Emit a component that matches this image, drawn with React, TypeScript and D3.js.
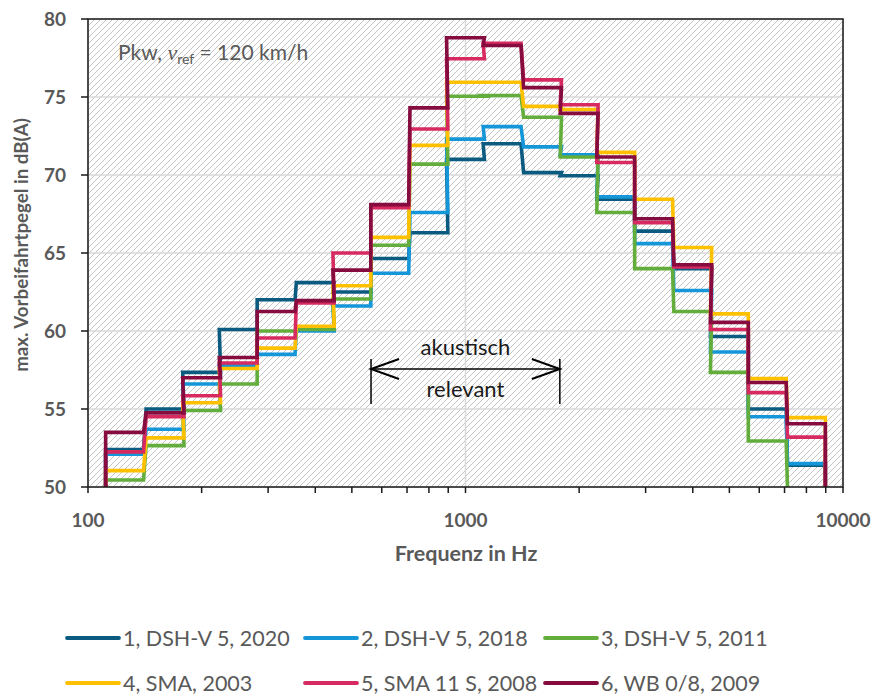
import React from "react";
import * as d3 from "d3";

// Third-octave band centre frequencies (Hz)
const bandCentres = [125, 160, 200, 250, 315, 400, 500, 630, 800, 1000, 1250, 1600, 2000, 2500, 3150, 4000, 5000, 6300, 8000];

// Maximum pass-by levels per band, dB(A)
const dshv2020 = [52.4, 55.0, 57.35, 60.1, 62.0, 63.1, 62.5, 64.65, 66.3, 71.0, 72.0, 70.15, 69.95, 68.45, 66.4, 64.0, 59.65, 55.0, 51.4];
const dshv2018 = [52.1, 53.7, 56.6, 57.8, 58.5, 60.0, 61.6, 63.7, 67.6, 72.3, 73.1, 71.8, 71.3, 68.6, 65.6, 62.6, 58.65, 54.5, 51.5];
const dshv2011: (number | null)[] = [50.45, 52.65, 54.9, 56.6, 60.0, 60.1, 62.05, 65.5, 70.7, 75.05, 75.1, 73.7, 71.15, 67.6, 64.0, 61.25, 57.35, 52.95, null];
const sma2003 = [51.05, 53.15, 55.4, 57.6, 58.9, 60.3, 62.9, 66.0, 71.9, 75.95, 75.95, 74.4, 74.2, 71.45, 68.45, 65.35, 61.1, 56.95, 54.45];
const sma11s2008 = [52.25, 54.5, 55.85, 57.95, 59.55, 61.8, 65.0, 67.9, 72.95, 77.45, 78.45, 76.1, 74.5, 70.8, 66.95, 64.1, 60.1, 56.05, 53.2];
const wb2009 = [53.5, 54.75, 57.0, 58.3, 61.25, 61.95, 63.9, 68.1, 74.3, 78.8, 78.3, 75.6, 73.95, 71.15, 67.2, 64.25, 60.55, 56.7, 54.05];

const seriesNames = ["1, DSH-V 5, 2020", "2, DSH-V 5, 2018", "3, DSH-V 5, 2011", "4, SMA, 2003", "5, SMA 11 S, 2008", "6, WB 0/8, 2009"];
const seriesValues = [dshv2020, dshv2018, dshv2011, sma2003, sma11s2008, wb2009];
const seriesColors = ["#0B5A80", "#1596D8", "#62AD3B", "#FFC000", "#D62A60", "#860B3E"];

const yTicks = [50, 55, 60, 65, 70, 75, 80];
const xMajorTicks = [100, 1000, 10000];
const xMinorTicks = [200, 300, 400, 500, 600, 700, 800, 900, 2000, 3000, 4000, 5000, 6000, 7000, 8000, 9000];

// Acoustically relevant range (band edges)
const relevantFrom = 562;
const relevantTo = 1778;

const W = 877;
const H = 695;
const plot = { left: 88, right: 843, top: 19, bottom: 487 };
const axisGrey = "#595959";
const font = "Lato, 'Open Sans', sans-serif";

export default function App() {
  const x = d3.scaleLog().domain([100, 10000]).range([plot.left, plot.right]);
  const y = d3.scaleLinear().domain([50, 80]).range([plot.bottom, plot.top]);
  const half = Math.pow(2, 1 / 6);
  const line = d3.line<[number, number]>().x((d) => x(d[0])).y((d) => y(d[1]));

  // Step outline across the bands, rising from and falling back to the 50 dB floor
  const stepPath = (vals: (number | null)[]) => {
    const pts: [number, number][] = [[bandCentres[0] / half, 50]];
    for (let i = 0; i < bandCentres.length; i++) {
      const v = vals[i];
      const lo = bandCentres[i] / half;
      const hi = bandCentres[i] * half;
      if (v == null) {
        pts.push([lo, 50]);
        return line(pts);
      }
      pts.push([lo, v], [hi, v]);
    }
    pts.push([bandCentres[bandCentres.length - 1] * half, 50]);
    return line(pts);
  };

  const ax1 = x(relevantFrom);
  const ax2 = x(relevantTo);
  const ay = 369;

  const legendCols = [67, 305, 545];
  const legendRows = [638, 683];

  return (
    <svg width={W} height={H} style={{ position: "absolute", left: 0, top: 0, display: "block", background: "#fff" }}>
      <defs>
        <pattern id="hatch" patternUnits="userSpaceOnUse" width={6} height={6}>
          <rect width={6} height={6} fill="#fff" />
          <path d="M-1,1 l2,-2 M0,6 l6,-6 M5,7 l2,-2" stroke="#C4C4C4" strokeWidth={1} />
        </pattern>
        <clipPath id="plotClip">
          <rect x={plot.left} y={plot.top - 3} width={plot.right - plot.left} height={plot.bottom - plot.top + 3} />
        </clipPath>
      </defs>

      <rect x={plot.left} y={plot.top} width={plot.right - plot.left} height={plot.bottom - plot.top} fill="url(#hatch)" />

      {/* grid */}
      {yTicks.map((t) => (
        <line key={"gy" + t} x1={plot.left} x2={plot.right} y1={y(t)} y2={y(t)} stroke="#D9D9D9" strokeWidth={1.5} />
      ))}
      {xMajorTicks.map((t) => (
        <line key={"gx" + t} x1={x(t)} x2={x(t)} y1={plot.top} y2={plot.bottom} stroke="#D9D9D9" strokeWidth={1.5} />
      ))}

      {/* vehicle / speed note */}
      <text x={118} y={60} fontFamily={font} fontSize={21} fill={axisGrey}>
        Pkw,{" "}
        <tspan fontStyle="italic" fontFamily="'Liberation Serif', serif" fontSize={22}>v</tspan>
        <tspan fontSize={14} dy={4}>ref</tspan>
        <tspan dy={-4}> = 120 km/h</tspan>
      </text>

      {/* relevant range marker */}
      <g stroke="#000" strokeWidth={1.5} fill="none">
        <line x1={ax1} x2={ax1} y1={359} y2={404} />
        <line x1={ax2} x2={ax2} y1={359} y2={404} />
        <line x1={ax1} x2={ax2} y1={ay} y2={ay} />
        <path d={`M${ax1 + 28},${ay - 10} L${ax1},${ay} L${ax1 + 28},${ay + 10}`} strokeWidth={2} />
        <path d={`M${ax2 - 28},${ay - 10} L${ax2},${ay} L${ax2 - 28},${ay + 10}`} strokeWidth={2} />
      </g>
      <text x={(ax1 + ax2) / 2} y={355} textAnchor="middle" fontFamily={font} fontSize={22} fill="#1a1a1a">akustisch</text>
      <text x={(ax1 + ax2) / 2} y={397} textAnchor="middle" fontFamily={font} fontSize={22} fill="#1a1a1a">relevant</text>

      {/* series */}
      <g clipPath="url(#plotClip)">
        {seriesValues.map((vals, i) => (
          <path key={seriesNames[i]} d={stepPath(vals) || ""} fill="none" stroke={seriesColors[i]} strokeWidth={3.6} strokeLinejoin="miter" />
        ))}
      </g>

      {/* frame */}
      <rect x={plot.left} y={plot.top} width={plot.right - plot.left} height={plot.bottom - plot.top} fill="none" stroke="#1a1a1a" strokeWidth={1.5} />

      {/* y axis */}
      {yTicks.map((t) => (
        <g key={"yt" + t}>
          <line x1={plot.left - 7} x2={plot.left} y1={y(t)} y2={y(t)} stroke="#1a1a1a" strokeWidth={1.5} />
          <text x={66} y={y(t) + 7} textAnchor="end" fontFamily={font} fontWeight="bold" fontSize={19} fill={axisGrey}>{t}</text>
        </g>
      ))}
      <text transform={`translate(28,245) rotate(-90)`} textAnchor="middle" fontFamily={font} fontWeight="bold" fontSize={18.7} fill={axisGrey}>
        max. Vorbeifahrtpegel in dB(A)
      </text>

      {/* x axis */}
      {xMajorTicks.concat(xMinorTicks).map((t) => (
        <line key={"xt" + t} x1={x(t)} x2={x(t)} y1={plot.bottom} y2={plot.bottom + 6} stroke="#1a1a1a" strokeWidth={1.5} />
      ))}
      {xMajorTicks.map((t) => (
        <text key={"xl" + t} x={x(t)} y={527} textAnchor="middle" fontFamily={font} fontWeight="bold" fontSize={19} fill={axisGrey}>{t}</text>
      ))}
      <text x={466} y={561} textAnchor="middle" fontFamily={font} fontWeight="bold" fontSize={21.5} fill={axisGrey}>Frequenz in Hz</text>

      {/* legend */}
      {seriesNames.map((name, i) => {
        const cx = legendCols[i % 3];
        const cy = legendRows[Math.floor(i / 3)];
        return (
          <g key={"lg" + name}>
            <line x1={cx} x2={cx + 52} y1={cy} y2={cy} stroke={seriesColors[i]} strokeWidth={3.8} strokeLinecap="round" />
            <text x={cx + 56} y={cy + 7.5} fontFamily={font} fontSize={21.5} fill={axisGrey}>{name}</text>
          </g>
        );
      })}
    </svg>
  );
}
